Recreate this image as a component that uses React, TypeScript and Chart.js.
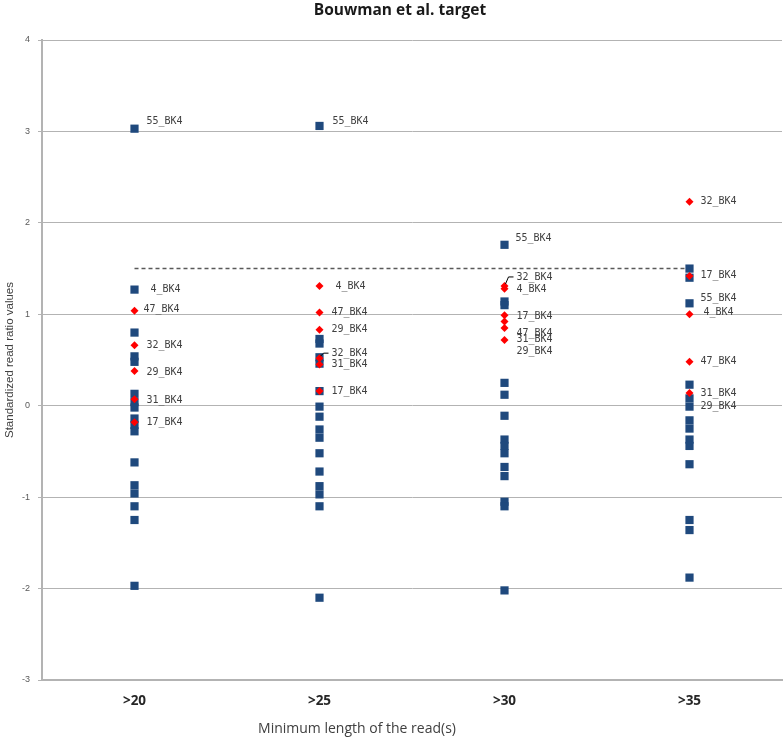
import React, { useEffect, useRef } from 'react';
import { Chart, registerables } from 'chart.js';

Chart.register(...registerables);

// ---------- data ----------
const categories = ['>20', '>25', '>30', '>35'];
const yMin = -3;
const yMax = 4;
const yStep = 1;
const threshold = 1.5;

const chartTitle = 'Bouwman et al. target';
const xTitle = 'Minimum length of the read(s)';
const yTitle = 'Standardized read ratio values';

// blue squares (all samples) per category
const squares20 = [3.03, 1.27, 0.8, 0.54, 0.48, 0.13, 0.04, -0.02, -0.14, -0.21, -0.28, -0.62, -0.87, -0.96, -1.1, -1.25, -1.97];
const squares25 = [3.06, 0.73, 0.68, 0.53, 0.46, 0.16, -0.01, -0.12, -0.26, -0.35, -0.52, -0.72, -0.88, -0.97, -1.1, -2.1];
const squares30 = [1.76, 1.14, 1.1, 0.25, 0.12, -0.11, -0.37, -0.44, -0.52, -0.67, -0.77, -1.05, -1.1, -2.02];
const squares35 = [1.5, 1.4, 1.12, 0.23, 0.08, -0.01, -0.16, -0.25, -0.37, -0.44, -0.64, -1.25, -1.36, -1.88];

// red diamonds (highlighted samples) per category
const diamonds20 = [1.04, 0.66, 0.38, 0.07, -0.18];
const diamonds25 = [1.31, 1.02, 0.83, 0.52, 0.45, 0.16];
const diamonds30 = [1.31, 1.28, 0.99, 0.92, 0.85, 0.72];
const diamonds35 = [2.23, 1.42, 1.0, 0.48, 0.14];

// labelled samples per category
const labelNames20 = ['55_BK4', '4_BK4', '47_BK4', '32_BK4', '29_BK4', '31_BK4', '17_BK4'];
const labelValues20 = [3.03, 1.27, 1.04, 0.66, 0.38, 0.07, -0.18];
const labelNames25 = ['55_BK4', '4_BK4', '47_BK4', '29_BK4', '32_BK4', '31_BK4', '17_BK4'];
const labelValues25 = [3.06, 1.31, 1.02, 0.83, 0.52, 0.45, 0.16];
const labelNames30 = ['55_BK4', '32_BK4', '4_BK4', '17_BK4', '47_BK4', '31_BK4', '29_BK4'];
const labelValues30 = [1.76, 1.31, 1.28, 0.99, 0.92, 0.85, 0.72];
const labelNames35 = ['32_BK4', '17_BK4', '55_BK4', '4_BK4', '47_BK4', '31_BK4', '29_BK4'];
const labelValues35 = [2.23, 1.42, 1.12, 1.0, 0.48, 0.14, -0.01];

// ---------- label layout (pixel nudges, leader flags) ----------
const labelDx = [
  [12, 16, 9, 12, 12, 12, 12],
  [13, 16, 12, 12, 12, 12, 12],
  [11, 12, 12, 12, 12, 12, 12],
  [11, 11, 11, 14, 11, 11, 11],
];
const labelDy = [
  [-7.5, 0, -1.5, 0, 1.5, 1, 0.5],
  [-5, 0, 0, 0, -5, 0, 0],
  [-6.5, -9, 0.5, 1.3, 11.5, 11.7, 11.7],
  [0, 0, -5, -2.3, 0, 0, 0],
];
const labelLeader = [
  [false, false, false, false, false, false, false],
  [false, false, false, false, true, false, false],
  [false, true, false, false, false, false, false],
  [false, false, false, false, false, false, false],
];

export default function App() {
  const ref = useRef<HTMLCanvasElement | null>(null);

  useEffect(() => {
    if (!ref.current) return;
    const squareSets = [squares20, squares25, squares30, squares35];
    const diamondSets = [diamonds20, diamonds25, diamonds30, diamonds35];
    const labelNameSets = [labelNames20, labelNames25, labelNames30, labelNames35];
    const labelValueSets = [labelValues20, labelValues25, labelValues30, labelValues35];

    const squares = squareSets.flatMap((vals, i) => vals.map((y) => ({ x: i, y })));
    const diamonds = diamondSets.flatMap((vals, i) => vals.map((y) => ({ x: i, y })));

    const labelsPlugin = {
      id: 'pointLabels',
      afterDatasetsDraw(chart: any) {
        const { ctx, scales } = chart;
        ctx.save();
        ctx.font = '10px "DejaVu Sans Mono"';
        ctx.fillStyle = '#404040';
        ctx.textAlign = 'left';
        ctx.textBaseline = 'middle';
        labelNameSets.forEach((names, ci) => {
          names.forEach((name, li) => {
            const px = scales.x.getPixelForValue(ci);
            const py = scales.y.getPixelForValue(labelValueSets[ci][li]);
            const lx = px + labelDx[ci][li];
            const ly = py + labelDy[ci][li];
            ctx.fillText(name, lx, ly);
            if (labelLeader[ci][li]) {
              ctx.strokeStyle = '#000';
              ctx.lineWidth = 1;
              ctx.beginPath();
              ctx.moveTo(lx - 3, ly);
              ctx.lineTo(lx - 8, ly);
              ctx.lineTo(px + 1, py - 2);
              ctx.stroke();
            }
          });
        });
        ctx.restore();
      },
    };

    const titlesPlugin = {
      id: 'titles',
      afterDraw(chart: any) {
        const { ctx, chartArea } = chart;
        ctx.save();
        ctx.textAlign = 'center';
        ctx.textBaseline = 'middle';
        ctx.fillStyle = '#1a1a1a';
        ctx.font = 'bold 15.5px "Open Sans"';
        ctx.fillText(chartTitle, 400, 11);
        ctx.fillStyle = '#404040';
        ctx.font = '14px "Open Sans"';
        ctx.fillText(xTitle, 357, 729);
        ctx.translate(10, (chartArea.top + chartArea.bottom) / 2);
        ctx.rotate(-Math.PI / 2);
        ctx.font = '11.5px "Liberation Sans"';
        ctx.fillText(yTitle, 0, 0);
        ctx.restore();
      },
    };

    const chart = new Chart(ref.current, {
      type: 'scatter',
      data: {
        datasets: [
          {
            label: 'highlighted',
            data: diamonds,
            pointStyle: 'rectRot',
            pointRadius: 4,
            backgroundColor: '#FF0000',
            borderColor: '#FF0000',
            borderWidth: 0,
          },
          {
            label: 'samples',
            data: squares,
            pointStyle: 'rect',
            pointRadius: 5.8,
            backgroundColor: '#1F497D',
            borderColor: '#1F497D',
            borderWidth: 0,
          },
          {
            label: 'threshold',
            data: [
              { x: 0, y: threshold },
              { x: categories.length - 1, y: threshold },
            ],
            showLine: true,
            borderColor: '#595959',
            borderDash: [4, 3],
            borderWidth: 1.5,
            pointRadius: 0,
          },
        ],
      },
      options: {
        animation: false,
        responsive: false,
        events: [],
        layout: { autoPadding: false, padding: { top: 40, right: 2, left: 0, bottom: 0 } },
        plugins: {
          legend: { display: false },
          tooltip: { enabled: false },
          title: { display: false },
        },
        scales: {
          x: {
            type: 'linear',
            min: -0.5,
            max: categories.length - 0.5,
            afterBuildTicks: (s: any) => {
              s.ticks = categories.map((_, i) => ({ value: i }));
            },
            afterFit: (s: any) => {
              s.height = 60;
            },
            grid: { display: false, drawTicks: false },
            border: { display: true, color: '#b3b3b3', width: 2 },
            ticks: {
              callback: (v: any) => categories[v] ?? '',
              font: { family: 'Open Sans', size: 13.5, weight: 'bold' },
              color: '#262626',
              padding: 13,
              maxRotation: 0,
              autoSkip: false,
            },
          },
          y: {
            min: yMin,
            max: yMax,
            afterFit: (s: any) => {
              s.width = 42;
            },
            grid: { color: '#b3b3b3', lineWidth: 1, tickLength: 4, drawTicks: true },
            border: { display: true, color: '#b3b3b3', width: 2 },
            ticks: {
              stepSize: yStep,
              font: { family: 'Liberation Sans', size: 9 },
              color: '#595959',
              padding: 8,
            },
          },
        },
      },
      plugins: [labelsPlugin, titlesPlugin],
    } as any);

    return () => chart.destroy();
  }, []);

  return (
    <div style={{ position: 'fixed', left: 0, top: 0, width: 784, height: 740, background: '#fff' }}>
      <canvas ref={ref} width={784} height={740} style={{ display: 'block', width: 784, height: 740 }} />
    </div>
  );
}
